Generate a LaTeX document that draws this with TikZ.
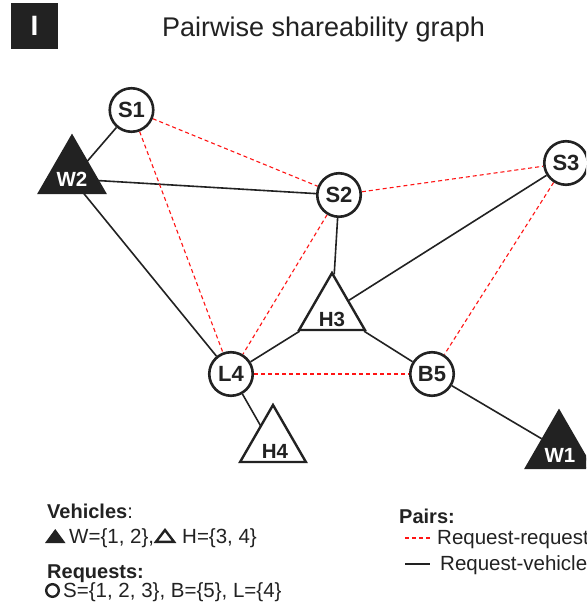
\documentclass[tikz,border=0pt]{standalone}
\usepackage{fontspec}
\setmainfont{Liberation Sans}
\usetikzlibrary{shapes.geometric}
\pgfdeclarelayer{back}
\pgfdeclarelayer{bg}
\pgfsetlayers{back,bg,main}
\definecolor{ink}{RGB}{34,34,34}
\definecolor{dashred}{RGB}{255,20,20}
\begin{document}
\begin{tikzpicture}[x=1pt,y=-1pt,
  req/.style={circle,draw=ink,line width=2.6pt,fill=white,minimum size=43.5pt,inner sep=0pt,
    font=\fontsize{22}{22}\selectfont\bfseries,text=ink},
  veh/.style={regular polygon,regular polygon sides=3,draw=ink,line width=2.4pt,fill=white,
    minimum size=76pt,inner sep=0pt},
  vehW/.style={veh,fill=ink},
  vlab/.style={inner sep=0pt,font=\fontsize{20.5}{20.5}\selectfont\bfseries,text=ink},
  rr/.style={draw=dashred,line width=1.1pt,dash pattern=on 4pt off 3pt},
  rv/.style={draw=ink,line width=1.6pt},
  legtxt/.style={anchor=base west,inner sep=0pt,text=ink,font=\fontsize{20.5}{20.5}\selectfont},
  leghead/.style={anchor=base west,inner sep=0pt,text=ink,font=\fontsize{20}{20}\selectfont\bfseries},
]
\clip (0,0) rectangle (586,609);
\begin{pgfonlayer}{back}
\fill[white] (0,0) rectangle (586,609);
\end{pgfonlayer}

% header
\node[fill=ink,minimum width=47pt,minimum height=46pt,inner sep=0pt,text=white,
  font=\fontsize{28}{28}\selectfont\bfseries] (badge) at (34.5,26) {I};
\node[anchor=base west,inner sep=0pt,text=ink,font=\fontsize{27}{27}\selectfont] (title) at (162,37) {Pairwise shareability graph};

% request nodes
\node[req] (S1) at (131.5,110) {S1};
\node[req] (S2) at (339,195) {S2};
\node[req] (S3) at (566,163) {S3};
\node[req] (L4) at (231,374) {L4};
\node[req] (B5) at (432,374) {B5};

% vehicle nodes
\node[vehW] (tW2) at (72,174) {};
\node[veh]  (tH3) at (332,311) {};
\node[veh]  (tH4) at (273,443) {};
\node[vehW] (tW1) at (559,449) {};
\node[vlab,text=white] (W2) at (72,179) {W2};
\node[vlab] (H3) at (332,319) {H3};
\node[vlab] (H4) at (275,451) {H4};
\node[vlab,text=white] (W1) at (560,455) {W1};

% edges
\begin{pgfonlayer}{bg}
\draw[rv] (S1) -- (W2);
\draw[rv] (S2) -- (W2);
\draw[rv] (L4) -- (W2);
\draw[rv] (S2) -- (tH3);
\draw[rv] (S3) -- (tH3);
\draw[rv] (L4) -- (tH3);
\draw[rv] (B5) -- (tH3);
\draw[rv] (L4) -- (H4);
\draw[rv] (B5) -- (tW1);
\draw[rr] (S1) -- (S2);
\draw[rr] (S1) -- (L4);
\draw[rr] (S2) -- (L4);
\draw[rr] (S2) -- (S3);
\draw[rr] (S3) -- (B5);
\draw[rr] (L4) -- (B5);
\end{pgfonlayer}

% legend
\node[leghead] (lv) at (47,518) {Vehicles\mdseries:};
\fill[ink] (45,543) -- (65.5,543) -- (55.25,529) -- cycle;
\node[legtxt] (lw) at (69,543) {W=\{1, 2\},};
\draw[ink,line width=2.4pt,line join=miter] (156,541.8) -- (174,541.8) -- (165,530) -- cycle;
\node[legtxt] (lh) at (182,543) {H=\{3, 4\}};
\node[leghead] (lr) at (47,578) {Requests:};
\draw[ink,line width=2.4pt] (52.5,590.5) circle (6.3);
\node[legtxt] (ls) at (63,597) {S=\{1, 2, 3\}, B=\{5\}, L=\{4\}};

\node[leghead] (lp) at (399,523) {Pairs:};
\coordinate (rrA) at (405,538);
\coordinate (rrB) at (430,538);
\draw[rr] (rrA) -- (rrB);
\node[legtxt] (lrr) at (437,544) {Request-request};
\coordinate (rvA) at (405,564);
\coordinate (rvB) at (430,564);
\draw[rv] (rvA) -- (rvB);
\node[legtxt] (lrv) at (440,570) {Request-vehicle};
\end{tikzpicture}
\end{document}
